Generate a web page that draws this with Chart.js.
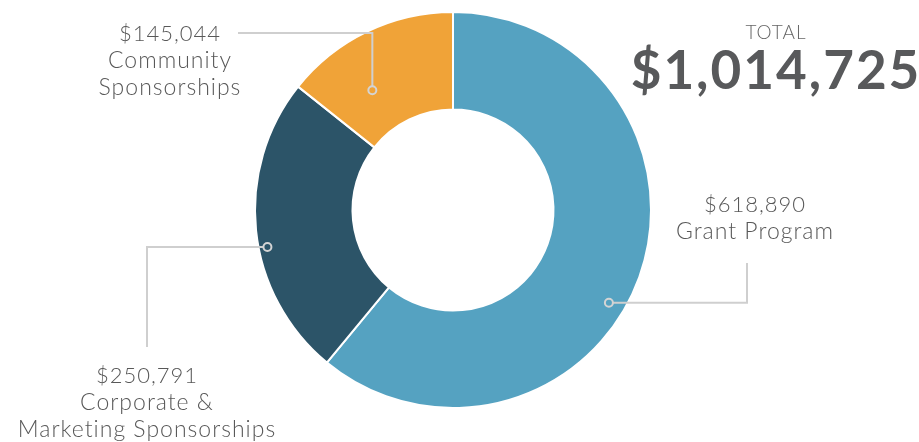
<!DOCTYPE html>
<html>
<head>
<meta charset="utf-8">
<script src="https://cdn.jsdelivr.net/npm/chart.js@4.4.1/dist/chart.umd.min.js"></script>
<style>
  html, body { margin: 0; padding: 0; background: #fff; }
  canvas { display: block; }
</style>
</head>
<body>
<canvas id="donut" width="919" height="442"></canvas>
<script>
// data
const categories = ['Grant Program', 'Corporate & Marketing Sponsorships', 'Community Sponsorships'];
const labelLines = [['Grant Program'], ['Corporate &', 'Marketing Sponsorships'], ['Community', 'Sponsorships']];
const amounts = [618890, 250791, 145044];
const sliceColors = ['#55a2c1', '#2c5468', '#f0a338'];
const totalTitle = 'TOTAL';

const money = v => '$' + v.toLocaleString('en-US');

// where the little dot sits inside each slice + where the leader line bends / text goes
const callouts = [
  { at: 0.55, depth: 0.83, bend: [747, 263], textX: 755, textY: 205 },
  { at: 0.44, depth: 0.91, bend: [147, 347], textX: 147, textY: 376 },
  { at: 0.34, depth: 0.45, bend: [238, 33], textX: 170, textY: 34 }
];

const calloutPlugin = {
  id: 'callouts',
  afterDraw(chart) {
    const ctx = chart.ctx;
    const arcs = chart.getDatasetMeta(0).data;
    ctx.save();
    arcs.forEach((arc, i) => {
      const c = callouts[i];
      const p = arc.getProps(['x', 'y', 'startAngle', 'endAngle', 'innerRadius', 'outerRadius'], true);
      const a = p.startAngle + c.at * (p.endAngle - p.startAngle);
      const r = p.innerRadius + c.depth * (p.outerRadius - p.innerRadius);
      const dx = p.x + Math.cos(a) * r;
      const dy = p.y + Math.sin(a) * r;

      // leader line
      ctx.strokeStyle = '#cfcfcf';
      ctx.lineWidth = 2;
      ctx.beginPath();
      ctx.moveTo(dx, dy);
      if (i === 2) {
        ctx.lineTo(dx, c.bend[1]);
        ctx.lineTo(c.bend[0], c.bend[1]);
      } else {
        ctx.lineTo(c.bend[0], dy);
        ctx.lineTo(c.bend[0], c.bend[1]);
      }
      ctx.stroke();

      // dot
      ctx.beginPath();
      ctx.arc(dx, dy, 4, 0, Math.PI * 2);
      ctx.fillStyle = sliceColors[i];
      ctx.fill();
      ctx.strokeStyle = '#d4d4d4';
      ctx.stroke();

      // text
      ctx.fillStyle = '#585858';
      ctx.textAlign = 'center';
      ctx.textBaseline = 'middle';
      ctx.letterSpacing = '1px';
      ctx.font = '300 22px Lato';
      ctx.fillText(money(amounts[i]), c.textX, c.textY);
      ctx.font = '300 23px Lato';
      labelLines[i].forEach((t, k) => ctx.fillText(t, c.textX, c.textY + 27 * (k + 1)));
    });

    // total in the top right
    const total = amounts.reduce((s, v) => s + v, 0);
    ctx.fillStyle = '#666';
    ctx.letterSpacing = '1px';
    ctx.font = '300 19px Lato';
    ctx.fillText(totalTitle, 776, 33);
    ctx.fillStyle = '#58595b';
    ctx.letterSpacing = '2px';
    ctx.font = 'bold 53px Lato';
    ctx.fillText(money(total), 776, 72);
    ctx.restore();
  }
};

new Chart(document.getElementById('donut'), {
  type: 'doughnut',
  data: {
    labels: categories,
    datasets: [{
      data: amounts,
      backgroundColor: sliceColors,
      borderColor: '#ffffff',
      borderWidth: 2,
      hoverOffset: 0
    }]
  },
  options: {
    responsive: false,
    animation: false,
    radius: 198,
    cutout: 100,
    layout: { padding: { left: 200, right: 213, top: 12, bottom: 34 } },
    plugins: {
      legend: { display: false },
      tooltip: { enabled: false }
    }
  },
  plugins: [calloutPlugin]
});
</script>
</body>
</html>
